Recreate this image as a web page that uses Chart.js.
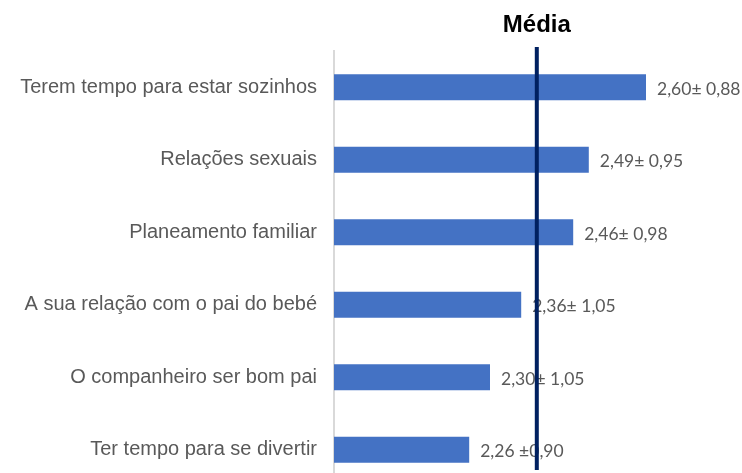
<!DOCTYPE html>
<html>
<head>
<meta charset="utf-8">
<script src="https://cdn.jsdelivr.net/npm/chart.js@4.4.0/dist/chart.umd.min.js"></script>
<style>
  html, body { margin: 0; padding: 0; background: #fff; overflow: hidden; }
  /* the plot runs past the bottom edge, as in the original crop */
  #wrap { position: relative; width: 742px; height: 507px; }
</style>
</head>
<body>
<div id="wrap"><canvas id="chart"></canvas></div>
<script>
// categories, top to bottom
const categories = [
  "Terem tempo para estar sozinhos",
  "Relações sexuais",
  "Planeamento familiar",
  "A sua relação com o pai do bebé",
  "O companheiro ser bom pai",
  "Ter tempo para se divertir"
];
const means = [2.60, 2.49, 2.46, 2.36, 2.30, 2.26];
const valueLabels = ["2,60± 0,88", "2,49± 0,95", "2,46± 0,98", "2,36± 1,05", "2,30± 1,05", "2,26 ±0,90"];
const overallMean = 2.39;
const meanTitle = "Média";

// mean line + title + value labels
const extras = {
  id: "extras",
  afterDatasetsDraw(chart) {
    const ctx = chart.ctx;
    const area = chart.chartArea;
    const x = chart.scales.x.getPixelForValue(overallMean);
    const meta = chart.getDatasetMeta(0);

    ctx.save();
    ctx.font = "17.5px Lato";
    ctx.fillStyle = "#595959";
    ctx.textBaseline = "middle";
    ctx.textAlign = "left";
    meta.data.forEach(function(bar, i) {
      ctx.fillText(valueLabels[i], bar.x + 11, bar.y + 2);
    });

    ctx.strokeStyle = "#002060";
    ctx.lineWidth = 4;
    ctx.beginPath();
    ctx.moveTo(x, area.top - 4);
    ctx.lineTo(x, area.bottom - 16);
    ctx.stroke();

    ctx.font = "bold 24px 'Liberation Sans'";
    ctx.fillStyle = "#000";
    ctx.textAlign = "center";
    ctx.textBaseline = "alphabetic";
    ctx.fillText(meanTitle, x, 32);
    ctx.restore();
  }
};

new Chart(document.getElementById("chart"), {
  type: "bar",
  data: {
    labels: categories,
    datasets: [{
      data: means,
      backgroundColor: "#4472C4",
      borderWidth: 0,
      categoryPercentage: 1,
      barPercentage: 0.36
    }]
  },
  options: {
    indexAxis: "y",
    responsive: true,
    maintainAspectRatio: false,
    animation: false,
    layout: { padding: { top: 51, right: 44, bottom: 0, left: 0 } },
    plugins: { legend: { display: false }, tooltip: { enabled: false } },
    scales: {
      x: { display: false, min: 2, max: 2.7 },
      y: {
        grid: { display: false },
        border: { display: true, color: "#D9D9D9", width: 2 },
        ticks: {
          color: "#595959",
          font: { family: "'Liberation Sans'", size: 20 },
          padding: 9
        },
        afterFit(scale) { scale.width = 334; }
      }
    }
  },
  plugins: [extras]
});
</script>
</body>
</html>
